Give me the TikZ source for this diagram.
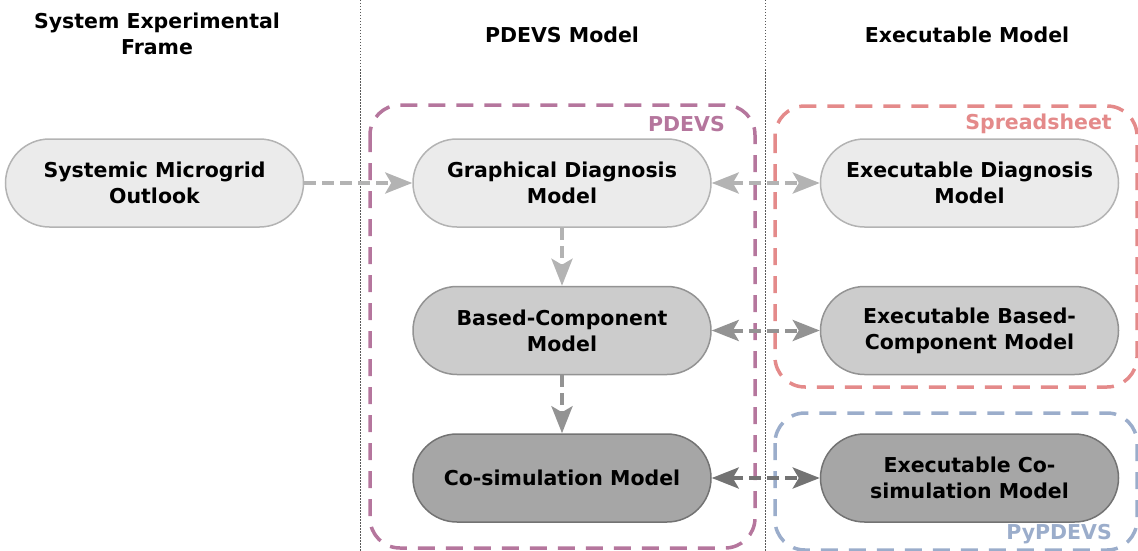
\documentclass[tikz,border=0pt]{standalone}
\usepackage{fontspec}
\setmainfont{DejaVu Sans}
\usetikzlibrary{arrows.meta,positioning}
\definecolor{lightfill}{HTML}{EBEBEB}
\definecolor{lightline}{HTML}{B3B3B3}
\definecolor{midfill}{HTML}{CCCCCC}
\definecolor{midline}{HTML}{939393}
\definecolor{darkfill}{HTML}{A6A6A6}
\definecolor{darkline}{HTML}{737373}
\definecolor{pdevscol}{HTML}{B5769D}
\definecolor{sheetcol}{HTML}{E48A8A}
\definecolor{pycol}{HTML}{9BADCB}

\begin{document}
\begin{tikzpicture}[x=1pt, y=-1pt, node distance=58pt and 108pt,
    every node/.style={font=\fontsize{20.5}{26}\selectfont\bfseries},
    model/.style={draw, line width=1.5pt, rounded corners=44pt, minimum width=298pt, minimum height=88pt, align=center},
    light/.style={model, draw=lightline, fill=lightfill},
    mid/.style={model, draw=midline, fill=midfill},
    dark/.style={model, draw=darkline, fill=darkfill},
    link/.style={line width=4pt, dash pattern=on 12pt off 6pt, -{Stealth[length=27pt,width=21pt,inset=6pt]}},
    both/.style={link, {Stealth[length=27pt,width=21pt,inset=6pt]}-{Stealth[length=27pt,width=21pt,inset=6pt]}},
    frame/.style={line width=3.5pt, dash pattern=on 17pt off 11pt, rounded corners=30pt},
    framelabel/.style={anchor=east, inner sep=0pt, font=\fontsize{20.5}{24}\selectfont\bfseries},
    header/.style={align=center, font=\fontsize{20.5}{26}\selectfont\bfseries}]
  \useasboundingbox (0,0) rectangle (1138,551);

  % column separators
  \draw[black!65, line width=1pt, dash pattern=on 1.5pt off 1.5pt] (360,0) -- (360,551);
  \draw[black!65, line width=1pt, dash pattern=on 1.5pt off 1.5pt] (765,0) -- (765,551);

  % headers
  \node[header] (hsef) at (157,34) {System Experimental\\Frame};
  \node[header] (hpdevs) at (562,35) {PDEVS Model};
  \node[header] (hexec) at (967,35) {Executable Model};

  % tool frames
  \draw[frame, pdevscol] (370,105) rectangle (755,548);
  \draw[frame, sheetcol] (775,106) rectangle (1137,387);
  \draw[frame, pycol] (775,413) rectangle (1137,550);
  \node[framelabel, pdevscol] (lpdevs) at (725,124) {PDEVS};
  \node[framelabel, sheetcol] (lsheet) at (1112,124) {Spreadsheet};
  \node[framelabel, pycol] (lpy) at (1112,534) {PyPDEVS};

  % models
  \node[light] (graphical) at (562,183) {Graphical Diagnosis\\Model};
  \node[light, left=of graphical] (outlook) {Systemic Microgrid\\Outlook};
  \node[light, right=of graphical] (execdiag) {Executable Diagnosis\\Model};
  \node[mid, below=of graphical] (component) {Based-Component\\Model};
  \node[mid, right=of component] (execcomp) {Executable Based-\\Component Model};
  \node[dark, below=of component] (cosim) {Co-simulation Model};
  \node[dark, right=of cosim] (execcosim) {Executable Co-\\simulation Model};

  % links
  \draw[link, lightline] (outlook) -- (graphical);
  \draw[both, lightline] (graphical) -- (execdiag);
  \draw[link, lightline] (graphical) -- (component);
  \draw[both, midline] (component) -- (execcomp);
  \draw[link, midline] (component) -- (cosim);
  \draw[both, darkline] (cosim) -- (execcosim);
\end{tikzpicture}
\end{document}
